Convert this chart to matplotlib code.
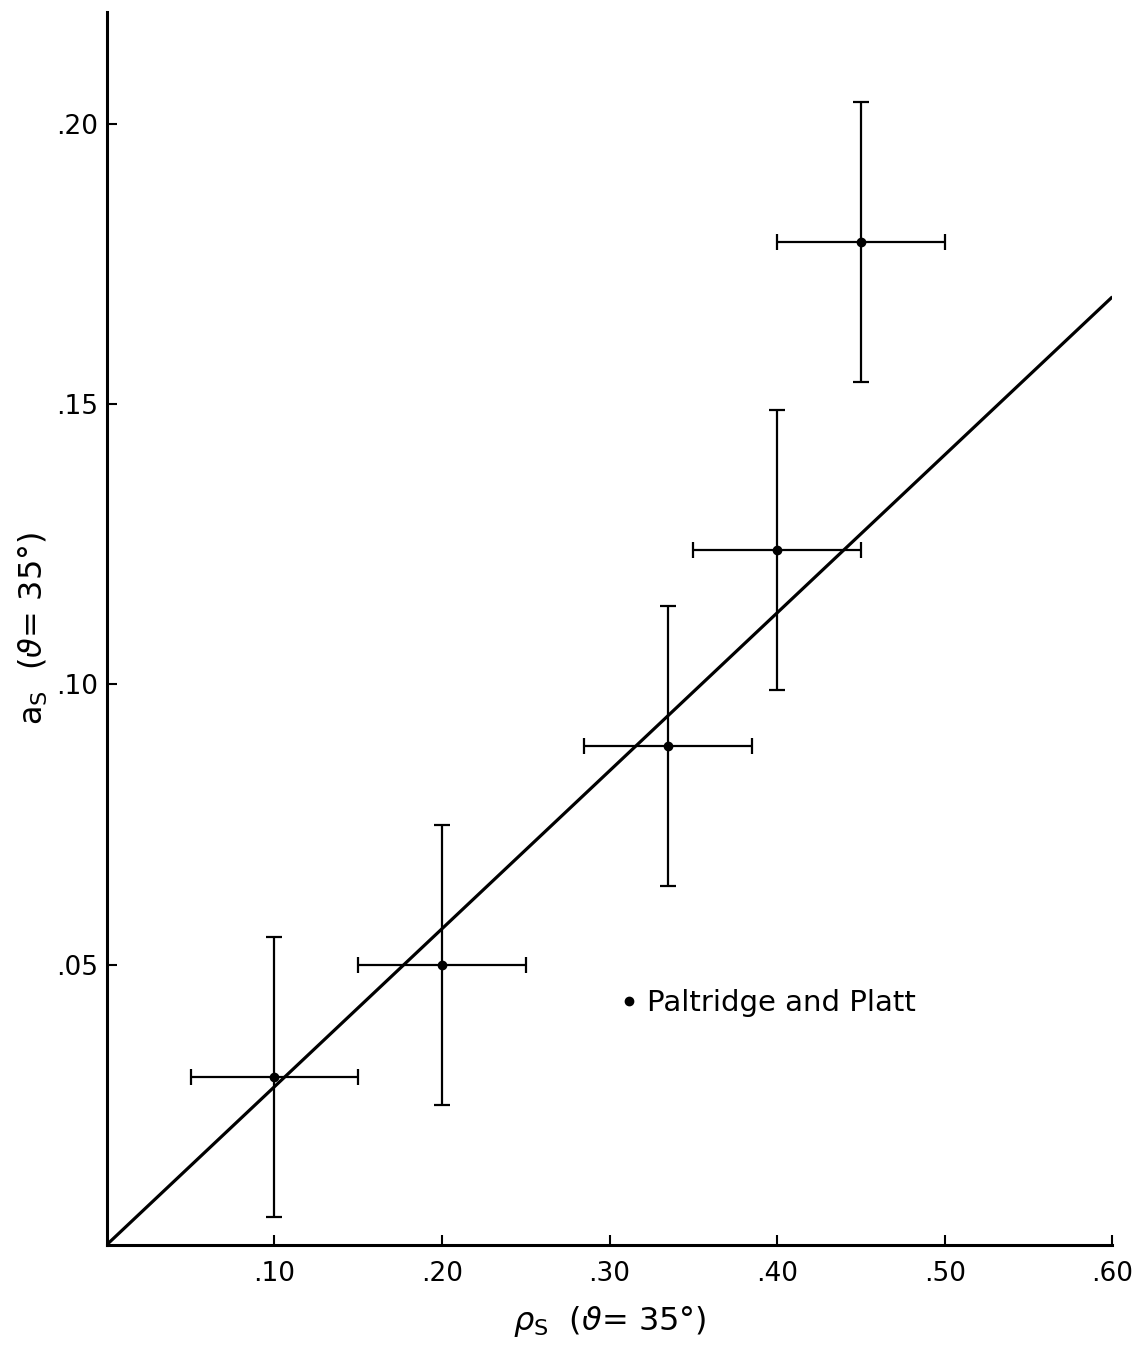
import matplotlib.pyplot as plt
from matplotlib.lines import Line2D
import numpy as np

# Paltridge and Platt points with their error bars
rho_s = [0.10, 0.20, 0.335, 0.40, 0.45]
a_s = [0.030, 0.050, 0.089, 0.124, 0.179]
rho_err = [0.05, 0.05, 0.05, 0.05, 0.05]
a_err = [0.025, 0.025, 0.025, 0.025, 0.025]

# straight-line fit through the origin
fit_slope = 0.282
fit_x = [0.0, 0.60]

xticks = [0.10, 0.20, 0.30, 0.40, 0.50, 0.60]
xtick_labels = ['.10', '.20', '.30', '.40', '.50', '.60']
yticks = [0.05, 0.10, 0.15, 0.20]
ytick_labels = ['.05', '.10', '.15', '.20']

plt.rcParams['font.family'] = 'DejaVu Sans'
plt.rcParams['mathtext.fontset'] = 'dejavusans'

fig = plt.figure(figsize=(11.48, 13.53), dpi=100)
ax = fig.add_axes([0.093, 0.080, 0.876, 0.911])

fx = np.array(fit_x)
ax.plot(fx, fit_slope * fx, color='black', lw=2.3, solid_capstyle='butt')

ax.errorbar(rho_s, a_s, xerr=rho_err, yerr=a_err, fmt='o', color='black',
            ms=6, elinewidth=1.6, capsize=6, capthick=1.6)

ax.set_xlim(0, 0.60)
ax.set_ylim(0, 0.22)
ax.set_xticks(xticks)
ax.set_xticklabels(xtick_labels)
ax.set_yticks(yticks)
ax.set_yticklabels(ytick_labels)
ax.tick_params(direction='in', length=7, width=1.5, labelsize=19)
ax.tick_params(axis='x', pad=12)
ax.tick_params(axis='y', pad=6)

for side in ['top', 'right']:
    ax.spines[side].set_visible(False)
for side in ['left', 'bottom']:
    ax.spines[side].set_linewidth(2.2)

ax.set_xlabel(r'$\rho_{\rm S}$  ($\vartheta$= 35°)', fontsize=23, labelpad=12)
ax.set_ylabel(r'a$_{\rm S}$  ($\vartheta$= 35°)', fontsize=23, va='center')
ax.yaxis.set_label_coords(-0.073, 0.5)

handle = Line2D([], [], marker='o', color='black', linestyle='none', markersize=6)
ax.legend([handle], ['Paltridge and Platt'], loc='center left',
          bbox_to_anchor=(0.479, 0.196), frameon=False, fontsize=21,
          handletextpad=0.1, handlelength=1.0)

fig.savefig('out.png', dpi=100)
